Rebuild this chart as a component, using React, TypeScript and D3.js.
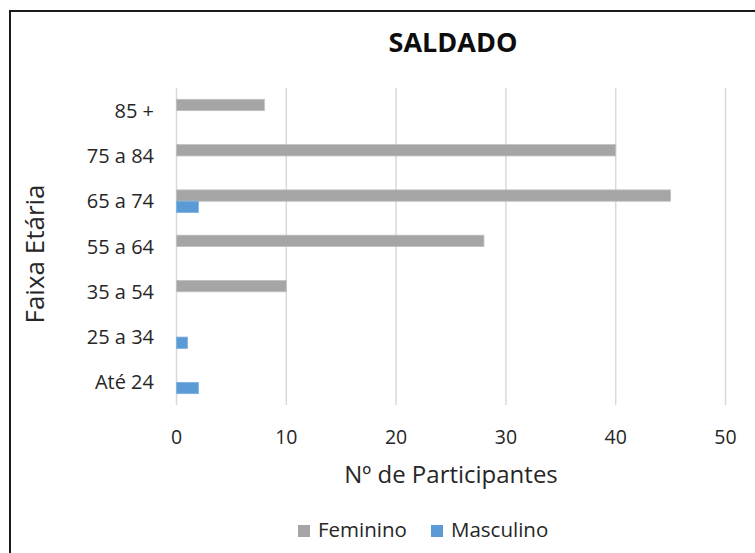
import React from "react";
import * as d3 from "d3";

const categories = ["85 +", "75 a 84", "65 a 74", "55 a 64", "35 a 54", "25 a 34", "Até 24"];
const feminino = [8, 40, 45, 28, 10, 0, 0];
const masculino = [0, 0, 2, 0, 0, 1, 2];
const seriesNames = ["Feminino", "Masculino"];
const seriesColors = ["#a5a5a5", "#5b9bd5"];
const xTicks = [0, 10, 20, 30, 40, 50];

const W = 755;
const H = 553;
const FONT = "'Open Sans', 'Noto Sans', sans-serif";

export default function App() {
  const x = d3.scaleLinear().domain([0, 50]).range([176.5, 725.5]);
  const y = d3.scaleBand<string>().domain(categories).range([88, 405]).paddingInner(0.5).paddingOuter(0.25);
  const sub = d3.scaleBand<string>().domain(seriesNames).range([0, y.bandwidth()]);
  const data = [feminino, masculino];

  return (
    <svg width={W} height={H} style={{ position: "absolute", left: 0, top: 0, background: "#fff" }} fontFamily={FONT}>
      <rect x={0} y={0} width={W} height={H} fill="#fff" />
      <rect x={10} y={11} width={W} height={H} fill="none" stroke="#1a1a1a" strokeWidth={2} />
      <text x={453} y={43} dy="0.35em" textAnchor="middle" fontSize={27} fontWeight="bold" fill="#0d0d0d">SALDADO</text>
      {xTicks.map((t) => (
        <line key={t} x1={x(t)} x2={x(t)} y1={88} y2={405} stroke="#d9d9d9" strokeWidth={1.5} />
      ))}
      {data.map((vals, si) =>
        categories.map((c, i) =>
          vals[i] > 0 ? (
            <rect
              key={si + c}
              x={x(0)}
              y={(y(c) as number) + (sub(seriesNames[si]) as number)}
              width={x(vals[i]) - x(0)}
              height={sub.bandwidth()}
              fill={seriesColors[si]}
              stroke={si === 0 ? "#bfbfbf" : "#7fb2e0"}
              strokeWidth={0.8}
            />
          ) : null
        )
      )}
      {categories.map((c) => (
        <text key={c} x={154} y={(y(c) as number) + y.bandwidth() / 2} dy="0.35em" textAnchor="end" fontSize={20} fill="#262626">
          {c}
        </text>
      ))}
      {xTicks.map((t) => (
        <text key={t} x={x(t)} y={437} dy="0.35em" textAnchor="middle" fontSize={19.5} fill="#262626">
          {t}
        </text>
      ))}
      <text x={451} y={475} dy="0.35em" textAnchor="middle" fontSize={24} fill="#262626">Nº de Participantes</text>
      <text transform={`translate(35,254) rotate(-90)`} dy="0.35em" textAnchor="middle" fontSize={26} fill="#262626">Faixa Etária</text>
      {seriesNames.map((s, i) => {
        const lx = [298, 431][i];
        return (
          <g key={s}>
            <rect x={lx} y={525} width={12} height={12} fill={seriesColors[i]} />
            <text x={lx + 20} y={530} dy="0.35em" fontSize={20.5} fill="#262626">{s}</text>
          </g>
        );
      })}
    </svg>
  );
}
